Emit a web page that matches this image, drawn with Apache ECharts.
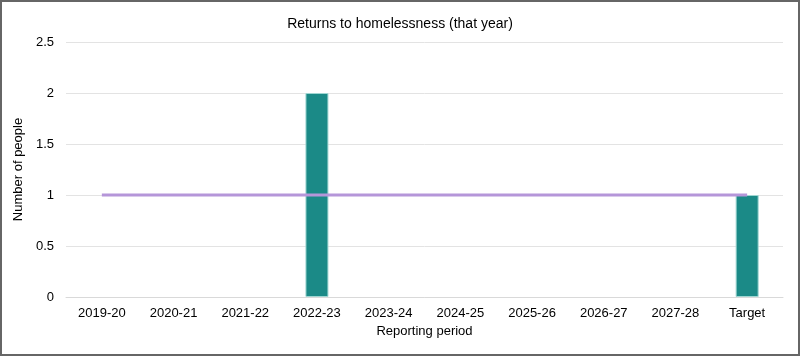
<!DOCTYPE html>
<html><head><meta charset="utf-8">
<script src="https://cdn.jsdelivr.net/npm/echarts@6/dist/echarts.min.js"></script>
<style>
html,body{margin:0;padding:0;background:#fff;}
#c{width:796px;height:352px;border:2px solid #666;}
</style></head>
<body><div id="c"></div>
<script>
const categories = ['2019-20','2020-21','2021-22','2022-23','2023-24','2024-25','2025-26','2026-27','2027-28','Target'];
const returnsValues = ['-','-','-',2,'-','-','-','-','-',1];
const targetLine = [1,1,1,1,1,1,1,1,1,1];
const yTicks = [0,0.5,1,1.5,2,2.5];

const chart = echarts.init(document.getElementById('c'));
chart.setOption({
  animation:false,
  title:{text:'Returns to homelessness (that year)',left:'center',top:10,
    textStyle:{fontFamily:'Arial, Liberation Sans',fontSize:14,fontWeight:'normal',color:'#000'}},
  grid:{left:64,right:15,top:40,bottom:57},
  xAxis:{type:'category',data:categories,
    name:'Reporting period',nameLocation:'middle',nameGap:28,
    nameTextStyle:{fontFamily:'Arial, Liberation Sans',fontSize:13,color:'#000'},
    axisLine:{show:true,lineStyle:{color:'#d9d9d9'}},axisTick:{show:false},
    axisLabel:{fontFamily:'Arial, Liberation Sans',fontSize:13,color:'#000',margin:10}},
  yAxis:{type:'value',min:0,max:2.5,interval:0.5,
    name:'Number of people',nameLocation:'middle',nameGap:41,
    nameTextStyle:{fontFamily:'Arial, Liberation Sans',fontSize:13,color:'#000'},
    axisLine:{show:false},axisTick:{show:false},
    splitLine:{lineStyle:{color:'#e3e3e3'}},
    axisLabel:{fontFamily:'Arial, Liberation Sans',fontSize:13,color:'#000',margin:12,
      formatter:v=>yTicks.includes(v)?String(v):''}},
  series:[
    {type:'bar',data:returnsValues,barWidth:23,
      itemStyle:{color:'#1b8a87',borderColor:'#9fd6d2',borderWidth:1}},
    {type:'line',data:targetLine,symbol:'none',z:5,
      lineStyle:{color:'#b596d9',width:3}}
  ]
});
</script></body></html>
